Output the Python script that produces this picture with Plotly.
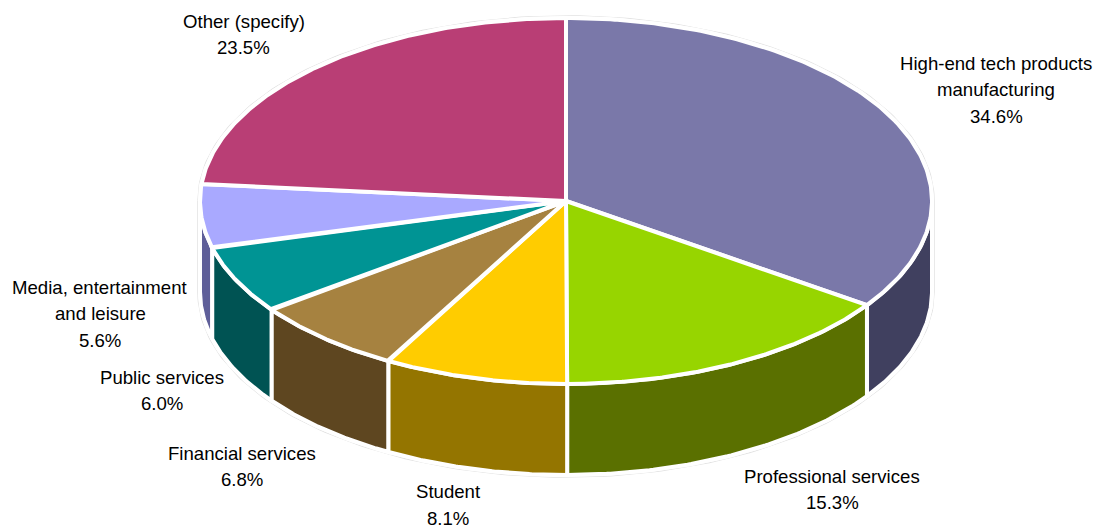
import numpy as np
import plotly.graph_objects as go

categories = ["High-end tech products manufacturing", "Professional services", "Student",
              "Financial services", "Public services", "Media, entertainment and leisure",
              "Other (specify)"]
shares = [34.6, 15.3, 8.1, 6.8, 6.0, 5.6, 23.5]
top_colors = ["#7A78A9", "#97D500", "#FFCC00", "#A68240", "#009494", "#A9A9FF", "#B93E75"]
wall_colors = ["#40405F", "#5A7000", "#947500", "#5E4620", "#005353", "#5F5F99", "#672345"]
label_lines = [
    ["High-end tech products", "manufacturing", "34.6%"],
    ["Professional services", "15.3%"],
    ["Student", "8.1%"],
    ["Financial services", "6.8%"],
    ["Public services", "6.0%"],
    ["Media, entertainment", "and leisure", "5.6%"],
    ["Other (specify)", "23.5%"],
]
label_anchor = [(996, 63), (832, 476), (448, 491.5), (241.5, 453), (162, 377), (100, 287), (243.5, 21)]

W, H = 1096, 527
CX, CY, RX, RY, DEPTH = 566, 201, 366, 183, 91
LINE_H = 26.5


def ell(a, dy=0.0):
    """a: clockwise degrees from 12 o'clock."""
    r = np.radians(a)
    return CX + RX * np.sin(r), CY + dy - RY * np.cos(r)


total = sum(shares)
edges = np.concatenate([[0], np.cumsum(shares) / total * 360])

fig = go.Figure()

# faint silhouette around the whole pie
a_up = np.linspace(-90, 90, 181)
a_lo = np.linspace(90, 270, 181)
xu, yu = ell(a_up)
xl, yl = ell(a_lo, DEPTH)
fig.add_trace(go.Scatter(x=np.r_[xu, xl, xu[0]], y=np.r_[yu, yl, yu[0]], mode="lines",
                         line=dict(color="#E2E2E2", width=5.5), hoverinfo="skip", showlegend=False))
fig.add_trace(go.Scatter(x=np.r_[xu, xl, xu[0]], y=np.r_[yu, yl, yu[0]], mode="lines",
                         fill="toself", fillcolor="white",
                         line=dict(color="white", width=4), hoverinfo="skip", showlegend=False))

# outer walls, back to front
order = [5, 0, 4, 1, 3, 2]
for i in order:
    a0, a1 = max(edges[i], 90), min(edges[i + 1], 270)
    if a1 <= a0:
        continue
    a = np.linspace(a0, a1, 90)
    xt, yt = ell(a)
    xb, yb = ell(a[::-1], DEPTH)
    fig.add_trace(go.Scatter(x=np.r_[xt, xb, xt[0]], y=np.r_[yt, yb, yt[0]], mode="lines",
                             fill="toself", fillcolor=wall_colors[i],
                             line=dict(color="white", width=4), hoverinfo="skip", showlegend=False))

# top faces
for i, name in enumerate(categories):
    a = np.linspace(edges[i], edges[i + 1], 180)
    xt, yt = ell(a)
    fig.add_trace(go.Scatter(x=np.r_[CX, xt, CX], y=np.r_[CY, yt, CY], mode="lines",
                             fill="toself", fillcolor=top_colors[i], name=name,
                             line=dict(color="white", width=4), showlegend=False))

for lines, (x, y0) in zip(label_lines, label_anchor):
    for k, line in enumerate(lines):
        fig.add_annotation(x=x, y=y0 + k * LINE_H, text=line, showarrow=False,
                           xanchor="center", yanchor="middle",
                           font=dict(family="Liberation Sans", size=18.6, color="#000000"))

fig.update_layout(width=W, height=H, margin=dict(l=0, r=0, t=0, b=0),
                  paper_bgcolor="white", plot_bgcolor="white", showlegend=False,
                  xaxis=dict(range=[0, W], visible=False, fixedrange=True),
                  yaxis=dict(range=[H, 0], visible=False, fixedrange=True))
fig.write_html("out.html", config={"displayModeBar": False},
               post_script="document.body.style.margin='0';document.documentElement.style.overflow='hidden';")
